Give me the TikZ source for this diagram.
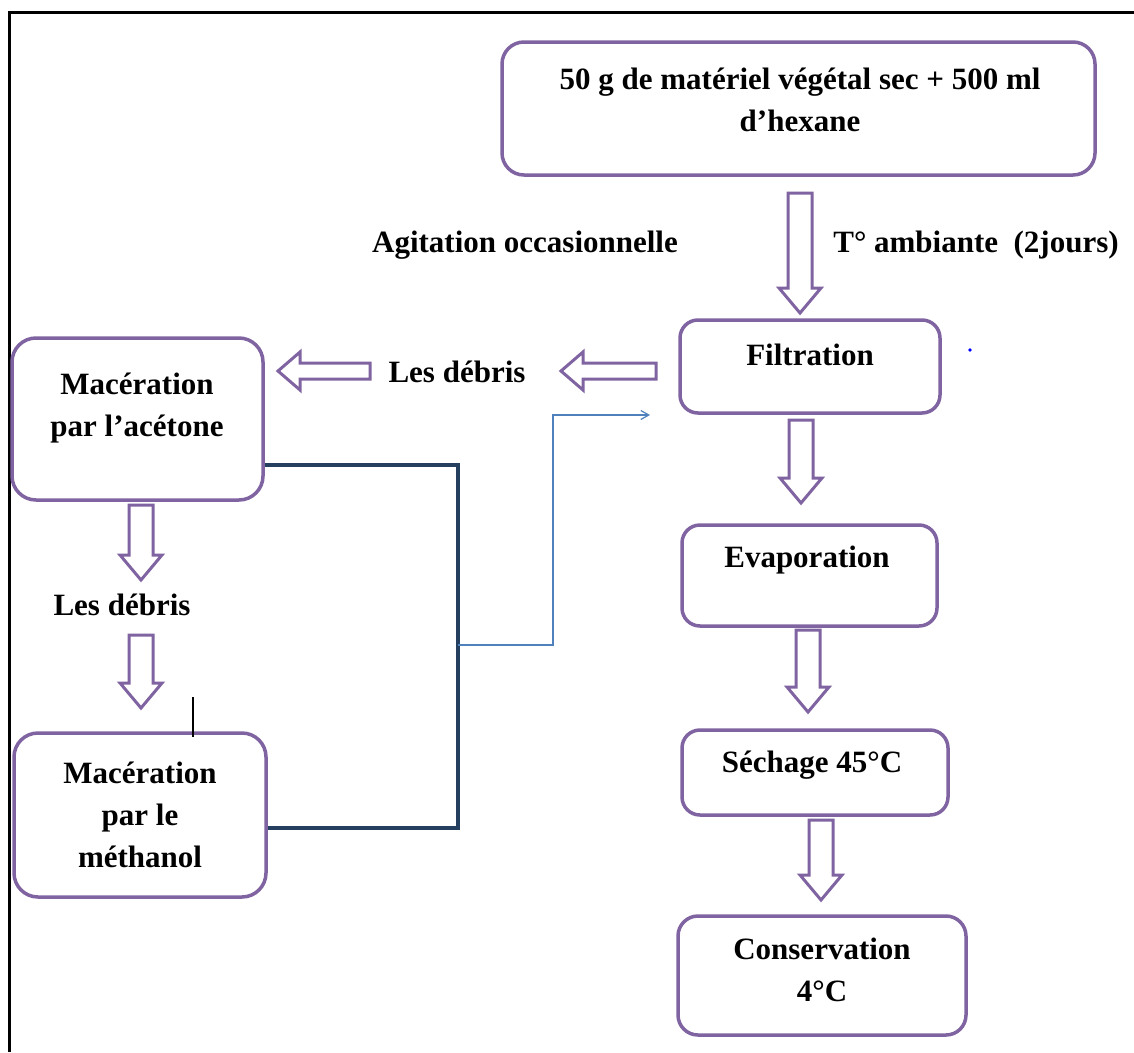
\documentclass[tikz,border=0pt]{standalone}
\usepackage{fontspec}
\setmainfont{Liberation Serif}
\usetikzlibrary{arrows.meta}
\definecolor{boxpurple}{HTML}{8064A2}
\definecolor{navyline}{HTML}{243F60}
\definecolor{thinblue}{HTML}{4F81BD}
\tikzset{
  procbox/.style={draw=boxpurple, line width=3.5pt, rounded corners=22pt, fill=white, inner sep=0pt},
  lbl/.style={font=\fontsize{31}{42}\selectfont\bfseries, align=center, inner sep=0pt},
  hollow/.style={draw=boxpurple, line width=3pt, fill=white, line join=miter},
  navy/.style={draw=navyline, line width=4pt},
  thinarrow/.style={draw=thinblue, line width=1.2pt, -{Straight Barb[length=8pt,width=9pt]}}
}
% hollow down arrow: x, ytop, ytip
\newcommand\hdown[3]{%
  \draw[hollow] (#1-12,#2) -- (#1+12,#2) -- (#1+12,#3-25) -- (#1+21,#3-25) -- (#1,#3) -- (#1-21,#3-25) -- (#1-12,#3-25) -- cycle;}
% hollow left arrow: y, xtail, xtip
\newcommand\hleft[3]{%
  \draw[hollow] (#2,#1-8) -- (#2,#1+8) -- (#3+22,#1+8) -- (#3+22,#1+19) -- (#3,#1) -- (#3+22,#1-19) -- (#3+22,#1-8) -- cycle;}
\begin{document}
\begin{tikzpicture}[x=1pt,y=-1pt]
\useasboundingbox (0,0) rectangle (1134,1052);
% frame
\draw[line width=3pt, black] (9,1052) -- (9,12) -- (1134,12);

% boxes
\node[procbox, minimum width=593pt, minimum height=133pt] (top) at (798.5,108.5) {};
\node[procbox, minimum width=260pt, minimum height=93pt, rounded corners=18pt] (filt) at (810,366.5) {};
\node[procbox, minimum width=255pt, minimum height=101pt, rounded corners=18pt] (evap) at (809.5,575.5) {};
\node[procbox, minimum width=266pt, minimum height=85pt, rounded corners=18pt] (sech) at (815,772.5) {};
\node[procbox, minimum width=288pt, minimum height=119pt, rounded corners=20pt] (cons) at (822,975.5) {};
\node[procbox, minimum width=251pt, minimum height=162pt, rounded corners=24pt] (acet) at (137.5,419) {};
\node[procbox, minimum width=252pt, minimum height=164pt, rounded corners=24pt] (meth) at (140,815) {};

% box texts
\node[lbl] (ttop) at (800,100) {50 g de matériel végétal sec + 500 ml\\d’hexane};
\node[lbl] (tfilt) at (810,355) {Filtration};
\node[lbl] (tevap) at (807,560) {Evaporation};
\node[lbl] (tsech) at (812,765) {Séchage 45°C};
\node[lbl] (tcons) at (822,970) {Conservation\\4°C};
\node[lbl] (tacet) at (137,408) {Macération\\par l’acétone};
\node[lbl] (tmeth) at (140,815) {Macération\\par le\\méthanol};

% free labels
\node[lbl] (agit) at (525,245) {Agitation occasionnelle};
\node[lbl] (tamb) at (976,245) {T° ambiante ~(2jours)};
\node[lbl] (deb1) at (457,372) {Les débris};
\node[lbl] (deb2) at (122,605) {Les débris};

% hollow arrows
\hdown{800}{193}{313}
\hdown{801}{420}{503}
\hdown{808}{630}{712}
\hdown{821}{820}{900}
\hdown{141}{505}{580}
\hdown{141}{635}{708}
\hleft{371}{656}{561}
\hleft{371}{370}{278}

% navy connectors
\coordinate (j1) at (458,465);
\coordinate (j2) at (458,828);
\coordinate (jm) at (458,645);
\draw[navy] (acet.east |- j1) -- (j1) -- (j2) -- (meth.east |- j2);
% thin blue arrow
\coordinate (b1) at (553,645);
\coordinate (b2) at (553,415);
\coordinate (b3) at (650,415);
\draw[thinarrow] (jm) -- (b1) -- (b2) -- (b3);

% small marks
\coordinate (m1) at (193,697);
\coordinate (m2) at (193,737);
\draw[black, line width=2.5pt] (m1) -- (m2);
\fill[blue] (970,350) circle (1.8pt);
\end{tikzpicture}
\end{document}
